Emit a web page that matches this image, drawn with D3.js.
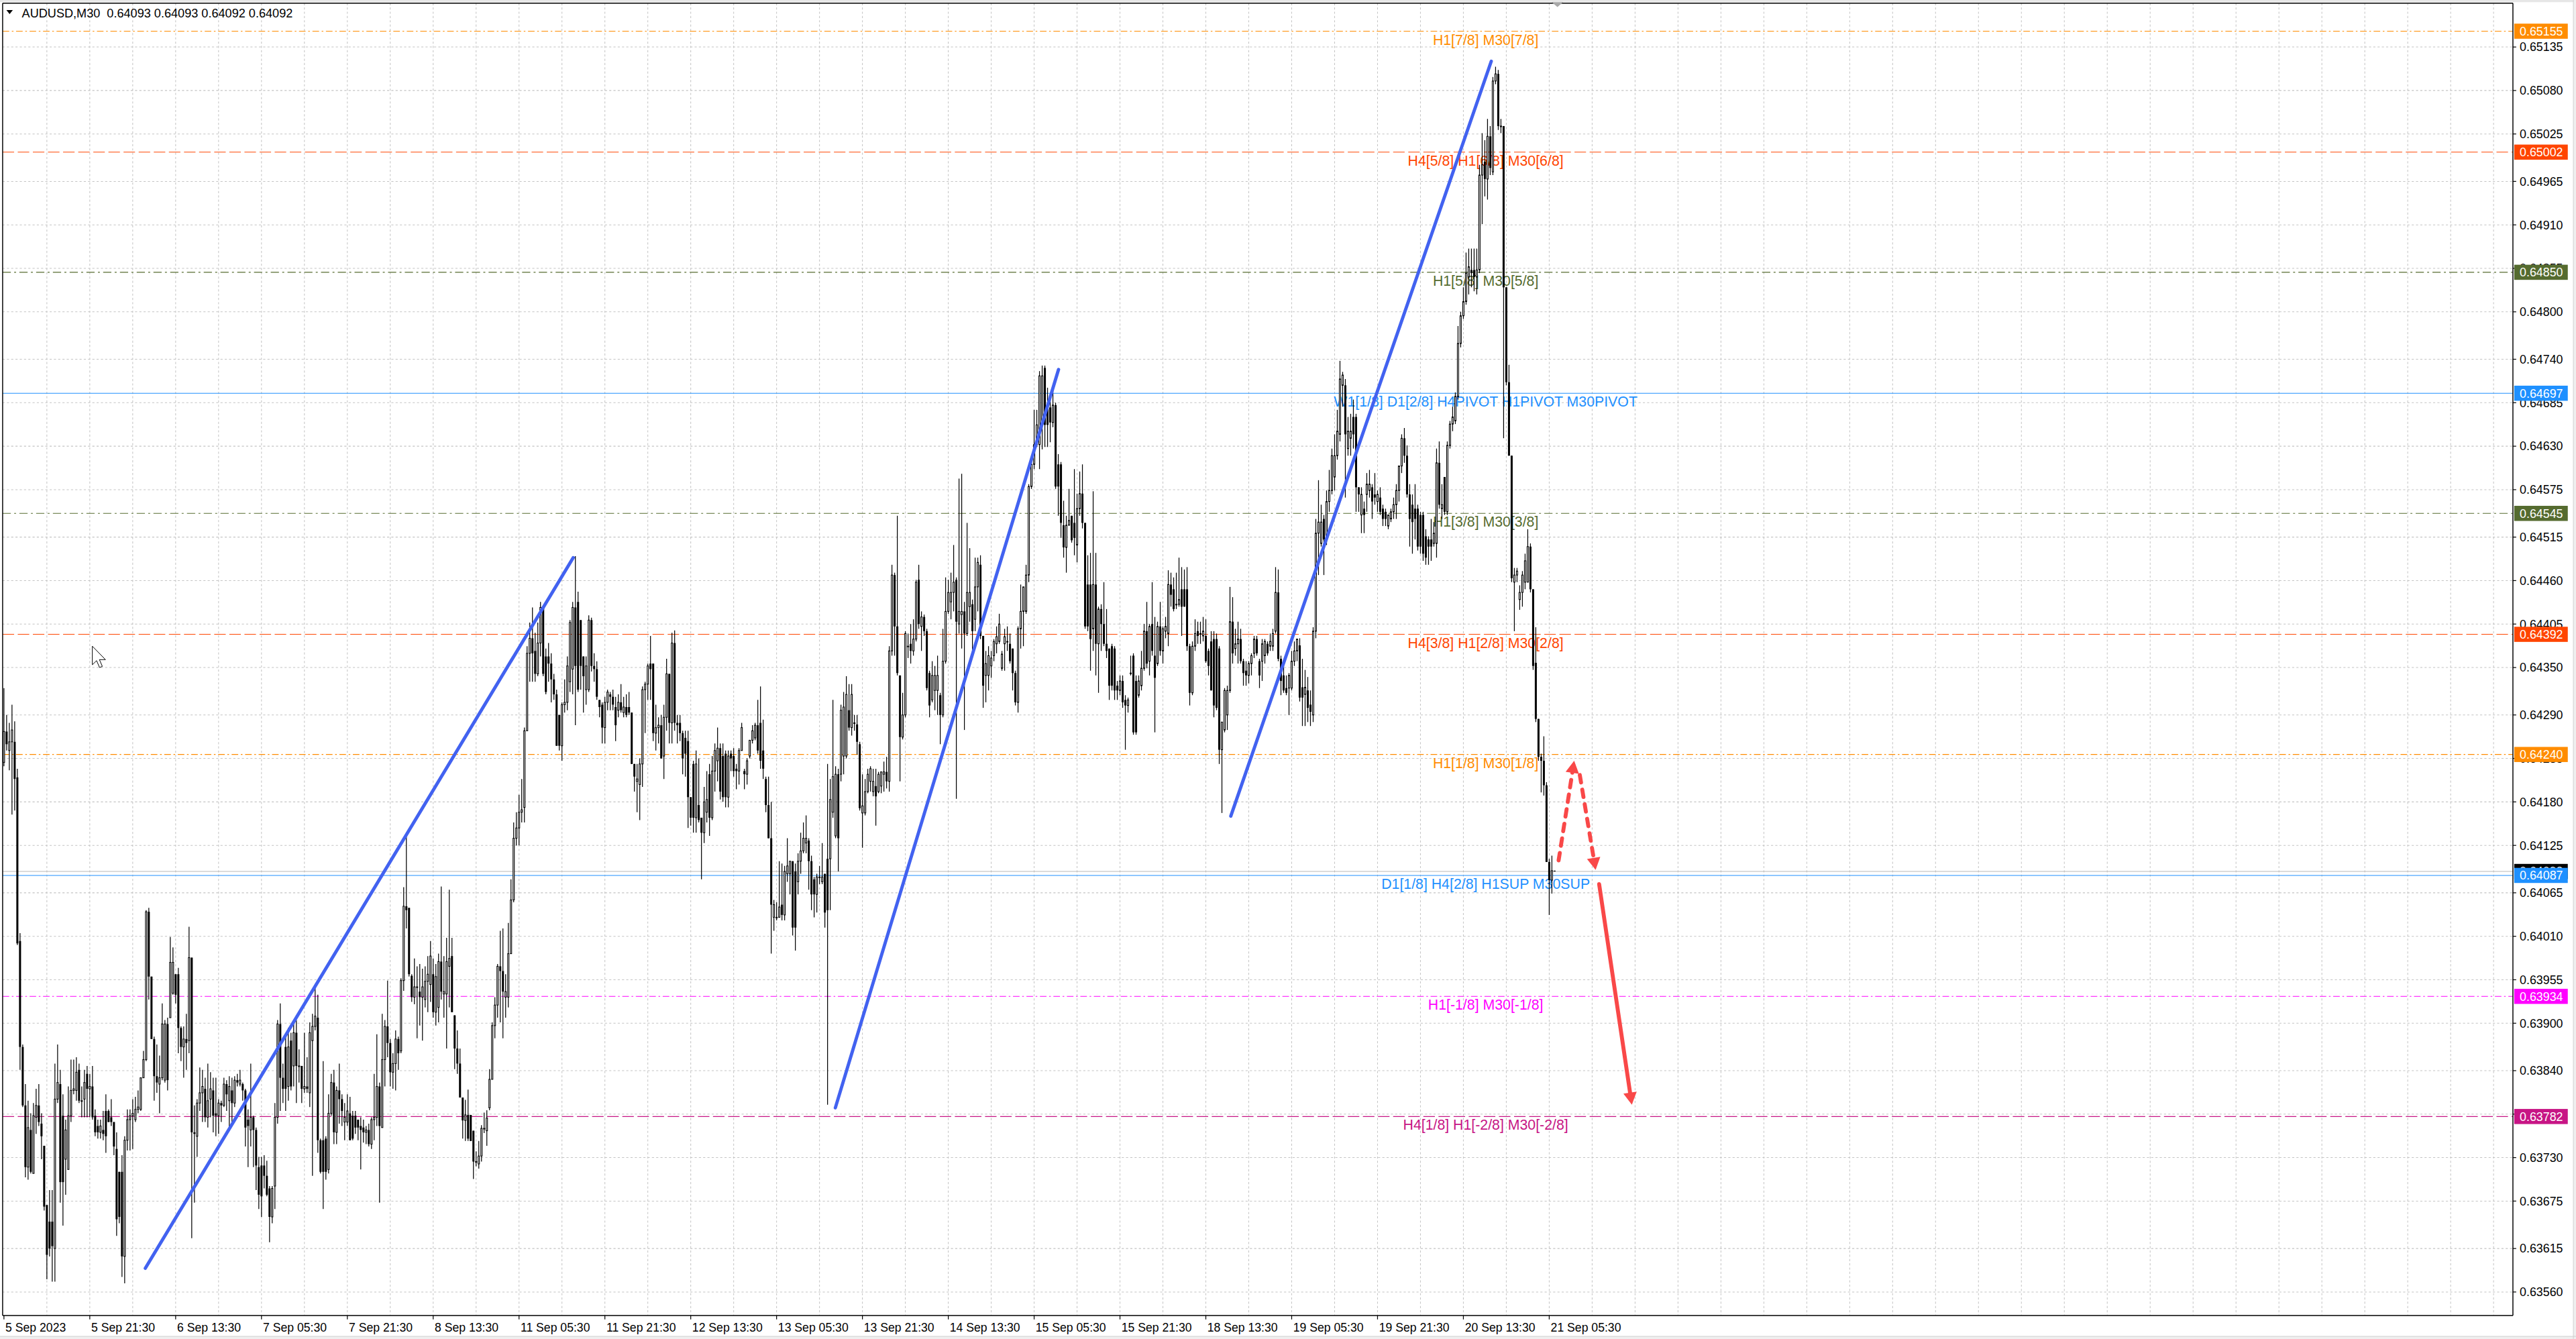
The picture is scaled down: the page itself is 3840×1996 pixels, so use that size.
<!DOCTYPE html>
<html><head><meta charset="utf-8">
<script src="https://cdn.jsdelivr.net/npm/d3@7"></script>
<style>
html,body{margin:0;padding:0;background:#fff;overflow:hidden}
svg{display:block}
</style></head>
<body>
<svg id="chart" width="3840" height="1996" viewBox="0 0 1568 815"></svg>
<script>
// ---------------- DATA (prices in 1/100000) ----------------
const symbol = "AUDUSD,M30";
const lastQuote = ["0.64093", "0.64093", "0.64092", "0.64092"];
const bidPrice = 0.64092;

const opens = [
64230,64269,64245,64256,64256,64211,64004,63870,63796,63718,63765,63710,63781,63796,63773,63745,63670,63649,63649,63615,
63804,63823,63783,63728,63715,63783,63815,63815,63841,63802,63804,63836,63817,63820,63783,63770,63762,63765,63789,63789,
63781,63775,63741,63712,63712,63605,63752,63778,63783,63778,63791,63791,63831,63854,64041,63959,63880,63833,63823,63831,
63828,63899,63907,63938,63962,63962,63894,63870,63880,63878,63983,63762,63757,63799,63812,63817,63781,63804,63815,63786,
63783,63799,63796,63823,63802,63815,63799,63828,63823,63823,63815,63778,63765,63781,63765,63718,63720,63720,63707,63691,
63655,63694,63781,63899,63831,63870,63820,63878,63846,63888,63846,63846,63817,63820,63812,63878,63896,63907,63752,63752,
63754,63715,63786,63825,63762,63815,63804,63775,63775,63786,63783,63783,63778,63770,63768,63762,63765,63747,63778,63781,
63820,63768,63854,63896,63875,63838,63849,63880,63865,63954,64048,64046,
63960,63933,63946,63940,63933,63930,63953,63949,63962,63914,63920,63978,63937,63937,63972,63985,63910,63868,63849,63806,
63777,63784,63784,63764,63725,63722,63732,63767,63764,63793,63829,63897,63923,63972,63966,63933,63933,63988,64056,64134,
64147,64167,64173,64270,64368,64387,64371,64342,64381,64426,64364,64364,64355,64335,64316,64290,64251,64303,64306,64332,
64348,64426,64433,64410,64364,64322,64322,64410,64352,64348,64309,64303,64274,64306,64316,64313,64300,64296,64306,64293,
64300,64300,64293,64228,64206,64202,64228,64322,64329,64355,64355,64267,64274,64277,64238,64287,64342,64280,64381,64280,
64280,64267,64261,64257,64186,64228,64160,64176,64160,64141,64167,64215,64160,64219,64232,64248,64238,64241,64186,64241,
64238,64222,64219,64245,
64219,64215,64238,64258,64261,64277,64280,64245,64209,64176,64134,64034,64034,64034,64050,64037,64089,64089,64105,64092,
64079,64105,64118,64128,64131,64105,64082,64063,64085,64079,64089,64108,64108,64167,64137,64215,64215,64238,64238,64296,
64274,64280,
64278,64253,64166,64166,64193,64206,64193,64200,64193,64200,64215,64218,64206,64371,64467,64402,64340,64262,64290,64377,
64380,64371,64386,64461,64402,64414,64396,64343,64309,64321,64321,64315,64290,64358,64421,64433,64445,64461,64405,64417,
64421,64393,64427,64430,64411,64452,64480,64390,64340,64340,64352,64365,64380,64383,64349,64380,64383,64380,64374,64343,
64306,64399,64421,64421,64467,64579,64607,64632,64632,64660,64729,64682,64679,64660,64682,64607,64607,64530,64502,64530,
64542,64533,64505,64551,64570,64533,64455,64455,64399,64455,64380,64424,64405,64380,64374,64377,64374,64327,64321,64333,
64309,64302,64343,64365,64333,64315,64327,64349,64396,64358,64405,64365,64355,64402,64371,64396,64393,64455,64449,64430,
64430,64449,64449,64449,64377,64318,64377,64396,64393,64390,64390,64371,64383,64386,64386,64374,64246,64271,64290,64321,
64408,64374,64380,64386,64358,64346,64340,64355,64368,64386,64358,64358,64365,64380,64377,64377,64396,64445,64361,64340,
64324,64324,64324,64358,64371,
64378,64325,64316,64321,64303,64290,64396,64520,64507,64538,64512,64560,64574,64591,64618,64645,64707,64707,64627,64640,
64667,64667,64578,64543,64551,64569,64574,64578,64569,64560,64565,64551,64547,64529,64538,64547,64556,64574,64605,64640,
64618,64569,64556,64551,64551,64543,64543,64516,64512,64512,64507,64507,64609,64551,64591,64547,64631,64658,64662,64693,
64760,64795,64813,64844,64853,64853,64844,64853,64973,64990,64968,65022,64977,65092,65101,65035,65035,64831,64711,64618,
64458,64467,64436,64445,64458,64458,64503,64449,64356,64285,64237,64232,64201,64104,64081,64093
];
const highs = [
64324,64290,64280,64303,64282,64222,64014,63873,63823,63802,63786,63799,63817,63823,63786,63745,63670,63689,63689,63849,
63873,63841,63810,63778,63820,63854,63854,63857,63849,63820,63841,63846,63836,63846,63791,63778,63778,63789,63810,63791,
63804,63775,63762,63712,63733,63757,63791,63791,63804,63807,63815,63831,63865,64043,64046,63959,63883,63873,63859,63925,
63904,63907,64009,63996,63962,63970,63896,63896,63912,64022,63983,63796,63804,63844,63841,63831,63849,63838,63831,63831,
63804,63802,63831,63828,63833,63831,63833,63836,63841,63825,63817,63791,63849,63783,63768,63731,63731,63733,63726,63694,
63694,63799,63904,63925,63849,63883,63894,63888,63904,63904,63867,63846,63888,63857,63901,63912,63946,63936,63754,63852,
63757,63810,63836,63841,63820,63849,63810,63799,63810,63807,63789,63789,63778,63781,63778,63770,63773,63781,63836,63886,
63825,63912,63904,63954,63880,63862,63891,63883,63957,64072,64138,64046,
63962,63982,63972,63975,63969,63972,63985,64004,63982,63975,63988,64073,63985,64008,64069,64008,63910,63891,63868,63806,
63803,63816,63784,63764,63738,63751,63771,63787,63790,63842,63901,63933,63975,64017,64020,63962,64027,64082,64154,64167,
64189,64209,64274,64377,64407,64426,64394,64407,64433,64426,64374,64381,64368,64342,64322,64290,64306,64335,64364,64410,
64433,64491,64446,64410,64364,64364,64416,64413,64368,64358,64309,64306,64313,64322,64319,64322,64313,64316,64329,64313,
64316,64319,64293,64228,64228,64235,64326,64332,64355,64390,64355,64303,64287,64290,64303,64361,64342,64394,64397,64290,
64290,64270,64270,64270,64186,64232,64245,64235,64160,64199,64219,64228,64238,64254,64274,64254,64254,64245,64245,64245,
64248,64228,64248,64280,
64222,64235,64258,64277,64280,64309,64326,64284,64212,64212,64180,64056,64053,64105,64102,64099,64134,64105,64105,64102,
64115,64141,64154,64163,64134,64112,64085,64089,64099,64128,64089,64228,64209,64309,64225,64222,64303,64319,64339,64329,
64329,64290,
64290,64256,64215,64209,64222,64225,64222,64222,64218,64218,64231,64237,64377,64480,64470,64542,64340,64318,64396,64393,
64405,64411,64461,64480,64421,64417,64399,64346,64358,64352,64365,64318,64399,64464,64461,64470,64505,64464,64589,64595,
64433,64533,64501,64436,64489,64489,64492,64390,64371,64377,64371,64386,64402,64418,64371,64399,64402,64393,64374,64346,
64402,64455,64452,64480,64582,64613,64676,64676,64725,64732,64732,64704,64694,64704,64685,64620,64610,64561,64542,64576,
64542,64601,64570,64598,64607,64533,64492,64495,64573,64495,64427,64430,64458,64424,64374,64380,64377,64333,64340,64340,
64315,64312,64365,64368,64340,64340,64371,64405,64433,64405,64458,64414,64408,64433,64402,64414,64473,64470,64464,64470,
64489,64477,64474,64477,64380,64383,64411,64408,64408,64414,64411,64374,64396,64396,64393,64377,64281,64324,64327,64452,
64439,64399,64408,64399,64361,64358,64358,64368,64390,64390,64361,64386,64386,64383,64393,64399,64477,64474,64365,64352,
64340,64343,64371,64383,64386,
64387,64361,64347,64338,64321,64401,64538,64587,64556,64543,64574,64600,64627,64645,64676,64738,64724,64715,64667,64671,
64689,64671,64578,64578,64560,64596,64600,64582,64596,64574,64578,64556,64551,64543,64551,64565,64582,64605,64645,64653,
64631,64582,64569,64582,64556,64547,64547,64525,64516,64538,64534,64627,64636,64582,64591,64636,64662,64680,64698,64782,
64800,64831,64875,64880,64880,64880,64880,64986,65026,65017,65044,65035,65097,65110,65106,65044,65035,64831,64733,64618,
64476,64476,64454,64472,64494,64525,64507,64449,64401,64285,64241,64263,64205,64108,64112,64093
];
const lows = [
64225,64245,64220,64164,64169,63999,63841,63794,63705,63702,63710,63710,63760,63770,63728,63663,63576,63605,63573,63573,
63799,63673,63644,63683,63715,63775,63810,63802,63799,63781,63781,63781,63781,63778,63757,63754,63754,63752,63736,63775,
63770,63733,63631,63647,63579,63571,63739,63739,63741,63775,63786,63789,63831,63852,63930,63880,63802,63812,63786,63828,
63825,63815,63907,63936,63925,63862,63852,63831,63841,63862,63628,63673,63731,63789,63775,63775,63768,63781,63762,63757,
63760,63775,63794,63789,63765,63775,63794,63820,63820,63802,63744,63718,63744,63718,63689,63665,63655,63691,63681,63623,
63647,63665,63773,63789,63799,63789,63802,63815,63820,63799,63825,63799,63812,63812,63794,63707,63891,63736,63710,63665,
63702,63710,63783,63747,63747,63773,63770,63752,63770,63752,63752,63760,63752,63715,63749,63747,63744,63741,63752,63770,
63673,63768,63820,63857,63820,63817,63815,63841,63862,63941,64020,63959,
63927,63924,63881,63897,63878,63920,63914,63927,63907,63897,63901,63930,63907,63868,63920,63914,63842,63836,63806,63754,
63751,63751,63751,63703,63719,63716,63725,63761,63745,63790,63829,63881,63907,63901,63881,63907,63920,63988,64053,64125,
64125,64154,64154,64270,64332,64332,64332,64339,64364,64339,64316,64332,64306,64309,64251,64245,64232,64293,64296,64319,
64316,64277,64319,64322,64293,64303,64319,64345,64332,64309,64287,64254,64254,64296,64296,64296,64257,64287,64293,64287,
64287,64290,64228,64193,64167,64157,64199,64267,64309,64309,64257,64245,64254,64235,64209,64270,64254,64254,64270,64254,
64257,64215,64212,64147,64150,64141,64141,64154,64082,64128,64154,64137,64157,64193,64206,64183,64180,64173,64173,64219,
64212,64196,64202,64245,
64196,64202,64235,64254,64258,64241,64222,64209,64167,64134,63988,64017,64030,64034,64030,64030,64079,64063,64011,63992,
64063,64089,64115,64115,64069,64043,64034,64040,64076,64076,64021,63797,64043,64160,64134,64092,64206,64215,64235,64270,
64264,64270,
64240,64169,64122,64163,64191,64193,64187,64150,64191,64191,64193,64197,64193,64365,64365,64340,64206,64259,64287,64362,
64355,64365,64383,64399,64371,64390,64321,64287,64306,64296,64290,64253,64287,64355,64418,64411,64421,64184,64393,64374,
64271,64390,64408,64371,64396,64421,64386,64299,64306,64321,64337,64358,64368,64380,64346,64346,64371,64355,64321,64302,
64293,64374,64377,64418,64458,64576,64601,64629,64601,64626,64629,64629,64635,64654,64576,64542,64514,64489,64470,64530,
64508,64492,64483,64542,64526,64399,64396,64346,64371,64340,64318,64371,64377,64362,64309,64321,64309,64309,64315,64299,
64246,64293,64340,64265,64265,64312,64321,64346,64349,64340,64365,64268,64352,64365,64355,64387,64377,64427,64421,64424,
64427,64390,64427,64371,64302,64315,64371,64380,64380,64383,64356,64340,64321,64287,64296,64228,64166,64268,64271,64318,
64355,64365,64355,64355,64327,64327,64330,64340,64362,64365,64324,64333,64355,64365,64371,64371,64393,64358,64315,64318,
64315,64290,64321,64352,64358,
64307,64276,64276,64281,64276,64281,64387,64467,64503,64467,64505,64547,64569,64574,64613,64636,64680,64565,64618,64618,
64627,64547,64547,64520,64520,64547,64565,64538,64556,64547,64543,64529,64529,64525,64534,64538,64538,64560,64596,64609,
64565,64503,64494,64512,64498,64494,64485,64480,64480,64485,64503,64489,64551,64538,64543,64543,64627,64649,64658,64689,
64755,64791,64809,64822,64831,64826,64822,64849,64911,64946,64942,64973,64973,65088,65030,65026,64640,64707,64618,64458,
64396,64458,64423,64427,64449,64458,64445,64347,64281,64232,64192,64188,64104,64037,64064,64092
];
const closes = [
64269,64253,64256,64271,64209,64001,63870,63796,63718,63768,63712,63783,63796,63775,63757,63668,63607,63615,63618,63804,
63825,63699,63699,63765,63783,63815,63817,63838,63802,63802,63825,63817,63820,63781,63762,63762,63770,63760,63757,63775,
63775,63744,63652,63655,63605,63752,63778,63783,63786,63791,63794,63831,63854,64041,63959,63880,63833,63825,63831,63899,
63899,63828,63977,63977,63936,63894,63870,63880,63875,63983,63762,63760,63799,63812,63820,63781,63802,63817,63783,63783,
63799,63796,63823,63810,63820,63799,63828,63825,63828,63815,63768,63770,63781,63765,63720,63683,63681,63707,63683,63655,
63691,63781,63899,63831,63817,63817,63870,63820,63888,63846,63846,63817,63820,63817,63888,63896,63909,63752,63712,63712,
63712,63786,63825,63762,63815,63804,63789,63781,63789,63752,63754,63768,63768,63765,63762,63765,63747,63778,63781,63820,
63770,63854,63896,63875,63838,63849,63880,63862,63954,64048,64043,63962,
63933,63946,63946,63933,63946,63953,63962,63985,63914,63959,63978,63940,63940,63978,63982,63914,63868,63849,63806,63777,
63784,63754,63751,63725,63725,63732,63767,63767,63780,63829,63897,63923,63972,63966,63940,63940,63988,64056,64134,64147,
64167,64170,64270,64368,64387,64368,64342,64381,64426,64342,64319,64355,64335,64316,64251,64251,64303,64306,64352,64407,
64426,64352,64322,64352,64339,64352,64410,64352,64348,64313,64300,64274,64306,64319,64313,64303,64277,64306,64296,64300,
64290,64293,64228,64212,64209,64228,64322,64329,64352,64348,64267,64274,64277,64235,64287,64342,64280,64381,64280,64277,
64267,64235,64241,64186,64160,64160,64228,64157,64141,64180,64183,64160,64219,64245,64248,64193,64186,64186,64238,64235,
64219,64219,64245,64274,
64215,64232,64258,64270,64277,64245,64232,64222,64176,64134,64050,64050,64034,64047,64037,64092,64099,64105,64021,64021,
64105,64118,64134,64134,64105,64063,64063,64085,64085,64085,64040,64043,64183,64212,64215,64134,64296,64300,64316,64274,
64316,64280,
64256,64172,64175,64193,64215,64222,64206,64187,64215,64218,64218,64206,64371,64467,64402,64343,64262,64290,64393,64377,
64371,64386,64458,64405,64414,64396,64324,64302,64340,64340,64340,64290,64358,64421,64445,64445,64458,64408,64421,64421,
64393,64445,64445,64396,64452,64483,64390,64327,64355,64365,64362,64383,64389,64405,64367,64389,64383,64358,64343,64306,
64399,64421,64452,64467,64579,64607,64632,64657,64719,64719,64657,64657,64660,64682,64579,64579,64533,64502,64530,64536,
64511,64514,64551,64570,64533,64402,64402,64386,64455,64380,64424,64405,64380,64371,64327,64327,64321,64321,64333,64306,
64302,64309,64343,64268,64268,64333,64349,64396,64355,64402,64371,64337,64402,64371,64399,64402,64455,64442,64424,64430,
64436,64427,64427,64377,64318,64377,64393,64390,64393,64396,64358,64352,64321,64302,64299,64246,64281,64321,64321,64408,
64368,64380,64386,64358,64343,64340,64355,64365,64386,64368,64340,64380,64383,64368,64383,64393,64445,64361,64333,64321,
64318,64340,64358,64371,64386,
64312,64312,64325,64299,64294,64396,64520,64534,64534,64512,64560,64574,64618,64618,64649,64715,64720,64645,64649,64649,
64645,64578,64569,64569,64543,64582,64582,64560,64565,64569,64547,64538,64538,64543,64547,64556,64574,64605,64640,64618,
64569,64538,64534,64538,64503,64503,64494,64489,64503,64503,64520,64609,64556,64556,64547,64631,64658,64667,64693,64760,
64795,64813,64849,64857,64849,64844,64853,64973,64986,64968,65022,64982,65092,65101,65035,65035,64831,64711,64618,64463,
64467,64472,64445,64467,64485,64503,64449,64352,64285,64237,64232,64201,64104,64081,64093,64092
];

// time axis (bar index of every labelled bar, 32 bars apart)
const xTickBars = [0,32,64,96,128,160,192,224,256,288,320,352,384,416,448,480,512,544,576];
const xTickLabels = ["5 Sep 2023","5 Sep 21:30","6 Sep 13:30","7 Sep 05:30","7 Sep 21:30","8 Sep 13:30",
  "11 Sep 05:30","11 Sep 21:30","12 Sep 13:30","13 Sep 05:30","13 Sep 21:30","14 Sep 13:30","15 Sep 05:30",
  "15 Sep 21:30","18 Sep 13:30","19 Sep 05:30","19 Sep 21:30","20 Sep 13:30","21 Sep 05:30"];
// price axis
const yTicks = [0.65135,0.65080,0.65025,0.64965,0.64910,0.64855,0.64800,0.64740,0.64685,0.64630,0.64575,0.64515,
  0.64460,0.64405,0.64350,0.64290,0.64235,0.64180,0.64125,0.64065,0.64010,0.63955,0.63900,0.63840,0.63785,
  0.63730,0.63675,0.63615,0.63560];

// Murrey-math style levels
const levelPrices = [0.65155,0.65002,0.64850,0.64697,0.64545,0.64392,0.64240,0.64087,0.63934,0.63782];
const levelLabels = ["H1[7/8] M30[7/8]","H4[5/8] H1[6/8] M30[6/8]","H1[5/8] M30[5/8]",
  "W1[1/8] D1[2/8] H4PIVOT H1PIVOT M30PIVOT","H1[3/8] M30[3/8]","H4[3/8] H1[2/8] M30[2/8]",
  "H1[1/8] M30[1/8]","D1[1/8] H4[2/8] H1SUP M30SUP","H1[-1/8] M30[-1/8]","H4[1/8] H1[-2/8] M30[-2/8]"];
const levelKinds = ["orange","red","olive","blue","olive","red","orange","blue","magenta","violet"];
const levelLabelBar = 552.3;

// blue trend lines (bar index, price)
const trendStartBars = [52.7, 309.9, 457.3];
const trendStartPrices = [0.63590, 0.63793, 0.64162];
const trendEndBars = [212.2, 393.1, 554.4];
const trendEndPrices = [0.64489, 0.64727, 0.65117];

// red forecast arrows: dashed up leg, dashed down leg, solid target leg
const forecastUpBars = [579.5, 585.3];
const forecastUpPrices = [0.64106, 0.64232];
const forecastDownBars = [587.4, 593.3];
const forecastDownPrices = [0.64214, 0.64094];
const forecastSolidBars = [594.6, 606.8];
const forecastSolidPrices = [0.64076, 0.63797];

// ---------------- STYLE ----------------
const levelStyle = {
  orange:  {color:"#FF8C00", dash:"4,1.6,1,1.6"},
  red:     {color:"#FF4500", dash:"7,2.2"},
  olive:   {color:"#556B2F", dash:"5,2,1.2,2"},
  blue:    {color:"#1E90FF", dash:null},
  magenta: {color:"#FF00FF", dash:"4,1.6,1,1.6"},
  violet:  {color:"#C71585", dash:"7,2.2"}
};
const uiFont = "'Liberation Sans', Arial, sans-serif";
const plot = {left:1.6, right:1529.6, top:1.9, bottom:800.7};

// ---------------- DRAW ----------------
const svg = d3.select("#chart");
svg.append("rect").attr("width",1568).attr("height",815).attr("fill","#ffffff");
svg.append("rect").attr("x",0).attr("y",0).attr("width",1568).attr("height",1.3).attr("fill","#e6e6e6");
svg.append("rect").attr("x",1566.4).attr("y",0).attr("width",1.6).attr("height",815).attr("fill","#efefef");
svg.append("rect").attr("x",0).attr("y",813.4).attr("width",1568).attr("height",1.6).attr("fill","#efefef");
svg.append("line").attr("x1",1566.4).attr("x2",1566.4).attr("y1",0).attr("y2",815).attr("stroke","#cfcfcf").attr("stroke-width",0.4);
svg.append("line").attr("x1",0).attr("x2",1568).attr("y1",813.4).attr("y2",813.4).attr("stroke","#cfcfcf").attr("stroke-width",0.4);

const x = d3.scaleLinear().domain([0, 935]).range([2.4, 2.4 + 1.633 * 935]);
const y = d3.scaleLinear().domain([0.63560, 0.65135]).range([786.4, 28.6]);

svg.append("defs").append("clipPath").attr("id","plotClip")
  .append("rect").attr("x",plot.left).attr("y",plot.top)
  .attr("width",plot.right-plot.left).attr("height",plot.bottom-plot.top);

// grid
const grid = svg.append("g").attr("stroke","#c4c4c4").attr("stroke-width",0.42).attr("stroke-dasharray","1.3,1.3");
grid.selectAll("line.v").data(d3.range(16, 936, 16).filter(b => x(b) < plot.right - 1)).join("line")
  .attr("x1",d=>x(d)).attr("x2",d=>x(d)).attr("y1",plot.top).attr("y2",plot.bottom);
grid.selectAll("line.h").data(yTicks).join("line")
  .attr("x1",plot.left).attr("x2",plot.right).attr("y1",d=>y(d)).attr("y2",d=>y(d));

const chart = svg.append("g").attr("clip-path","url(#plotClip)");

// level lines
const levels = levelPrices.map((p,i)=>({p, label:levelLabels[i], st:levelStyle[levelKinds[i]]}));
chart.append("g").selectAll("line").data(levels).join("line")
  .attr("x1",plot.left).attr("x2",plot.right).attr("y1",d=>y(d.p)).attr("y2",d=>y(d.p))
  .attr("stroke",d=>d.st.color).attr("stroke-width",0.45)
  .attr("stroke-dasharray",d=>d.st.dash);
chart.append("line").attr("x1",plot.left).attr("x2",plot.right).attr("y1",y(bidPrice)).attr("y2",y(bidPrice))
  .attr("stroke","#b8b8b8").attr("stroke-width",0.45);
chart.append("g").selectAll("text").data(levels).join("text")
  .attr("x",x(levelLabelBar)).attr("y",d=>y(d.p)+8.2).attr("text-anchor","middle")
  .attr("font-family",uiFont).attr("font-size",8.7).attr("fill",d=>d.st.color).text(d=>d.label);

// candles
const bars = opens.map((o,i)=>{
  const O=o/1e5, C=closes[i]/1e5;
  return {i, o:O, c:C, h:Math.max(highs[i]/1e5,O,C), l:Math.min(lows[i]/1e5,O,C)};
});
const cg = chart.append("g");
cg.selectAll("line.wick").data(bars).join("line")
  .attr("x1",d=>x(d.i)).attr("x2",d=>x(d.i)).attr("y1",d=>y(d.h)).attr("y2",d=>y(d.l))
  .attr("stroke","#000").attr("stroke-width",0.5);
cg.selectAll("rect.body").data(bars).join("rect")
  .attr("x",d=> d.c>=d.o ? x(d.i)-0.4 : x(d.i)-0.62)
  .attr("width",d=> d.c>=d.o ? 0.8 : 1.24)
  .attr("y",d=>y(Math.max(d.o,d.c)))
  .attr("height",d=>Math.max(0.4, Math.abs(y(d.o)-y(d.c))))
  .attr("fill",d=> d.c>=d.o ? "#ffffff" : "#000000")
  .attr("stroke",d=> d.c>=d.o ? "#000" : "none")
  .attr("stroke-width",0.45);

// trend lines
chart.append("g").selectAll("line").data(trendStartBars.map((b,i)=>i)).join("line")
  .attr("x1",i=>x(trendStartBars[i])).attr("y1",i=>y(trendStartPrices[i]))
  .attr("x2",i=>x(trendEndBars[i])).attr("y2",i=>y(trendEndPrices[i]))
  .attr("stroke","#4262F0").attr("stroke-width",2.0).attr("stroke-linecap","round");

// forecast arrows
const arrowColor = "#F94848";
const ag = chart.append("g");
function arrow(x1,y1,x2,y2,dash){
  const a = Math.atan2(y2-y1, x2-x1), len = 7.4, hw = 4.1;
  const bx = x2 - (len-0.5)*Math.cos(a), by = y2 - (len-0.5)*Math.sin(a);
  ag.append("line").attr("x1",x1).attr("y1",y1).attr("x2",bx).attr("y2",by)
    .attr("stroke",arrowColor).attr("stroke-width",2.4).attr("stroke-linecap","round")
    .attr("stroke-dasharray",dash);
  const cx = x2 - len*Math.cos(a), cy = y2 - len*Math.sin(a);
  const px = -Math.sin(a)*hw, py = Math.cos(a)*hw;
  ag.append("path").attr("d",`M${x2},${y2}L${cx+px},${cy+py}L${cx-px},${cy-py}Z`).attr("fill",arrowColor);
}
arrow(x(forecastUpBars[0]),y(forecastUpPrices[0]),x(forecastUpBars[1]),y(forecastUpPrices[1]),"4.6,4.4");
arrow(x(forecastDownBars[0]),y(forecastDownPrices[0]),x(forecastDownBars[1]),y(forecastDownPrices[1]),"4.6,4.4");
arrow(x(forecastSolidBars[0]),y(forecastSolidPrices[0]),x(forecastSolidBars[1]),y(forecastSolidPrices[1]),null);

// frame & axes
const frame = svg.append("g").attr("stroke","#000").attr("stroke-width",0.6);
frame.append("line").attr("x1",plot.left).attr("x2",plot.left).attr("y1",plot.top).attr("y2",plot.bottom);
frame.append("line").attr("x1",plot.left).attr("x2",plot.right).attr("y1",plot.top).attr("y2",plot.top);
frame.append("line").attr("x1",plot.right).attr("x2",plot.right).attr("y1",plot.top).attr("y2",plot.bottom);
frame.append("line").attr("x1",plot.left).attr("x2",plot.right).attr("y1",plot.bottom).attr("y2",plot.bottom);
frame.selectAll("line.xt").data(xTickBars).join("line")
  .attr("x1",d=>x(d)).attr("x2",d=>x(d)).attr("y1",plot.bottom).attr("y2",plot.bottom+2.4).attr("stroke-width",0.5);
frame.selectAll("line.yt").data(yTicks).join("line")
  .attr("x1",plot.right).attr("x2",plot.right+2).attr("y1",d=>y(d)).attr("y2",d=>y(d)).attr("stroke-width",0.5);

svg.append("g").selectAll("text").data(xTickBars).join("text")
  .attr("x",d=>x(d)+0.9).attr("y",810.6).attr("font-family",uiFont).attr("font-size",7.2).attr("fill","#000")
  .text((d,i)=>xTickLabels[i]);
svg.append("g").selectAll("text").data(yTicks).join("text")
  .attr("x",1533.7).attr("y",d=>y(d)+2.6).attr("font-family",uiFont).attr("font-size",7.3).attr("fill","#000")
  .text(d=>d.toFixed(5));

// price boxes on the axis
const boxes = levels.map(d=>({p:d.p, color:d.st.color}));
const boxOrder = boxes.slice(0,7).concat([{p:bidPrice, color:"#000000"}], boxes.slice(7));
const bg = svg.append("g");
boxOrder.forEach(b=>{
  bg.append("rect").attr("x",1530.4).attr("y",y(b.p)-4.6).attr("width",32.6).attr("height",9.2).attr("fill",b.color);
  bg.append("text").attr("x",1533.7).attr("y",y(b.p)+2.6).attr("font-family",uiFont).attr("font-size",7.3)
    .attr("fill","#ffffff").text(b.p.toFixed(5));
});

// header
svg.append("path").attr("d","M3.9,6.1L7.8,6.1L5.85,8.6Z").attr("fill","#000");
svg.append("text").attr("x",13.3).attr("y",10.7).attr("font-family",uiFont).attr("font-size",7.4)
  .attr("fill","#000").style("white-space","pre").text(symbol + "  " + lastQuote.join(" "));

// chart-shift marker and mouse pointer
svg.append("path").attr("d","M944.6,1.3L951.4,1.3L948,4.3Z").attr("fill","#a8a8a8");
svg.append("path").attr("d","M56.2,393.3L56.2,404.6L58.8,402.1L60.6,406.3L62.3,405.6L60.5,401.5L64.2,401.5Z")
  .attr("fill","#fff").attr("stroke","#000").attr("stroke-width",0.4);
</script>
</body></html>
